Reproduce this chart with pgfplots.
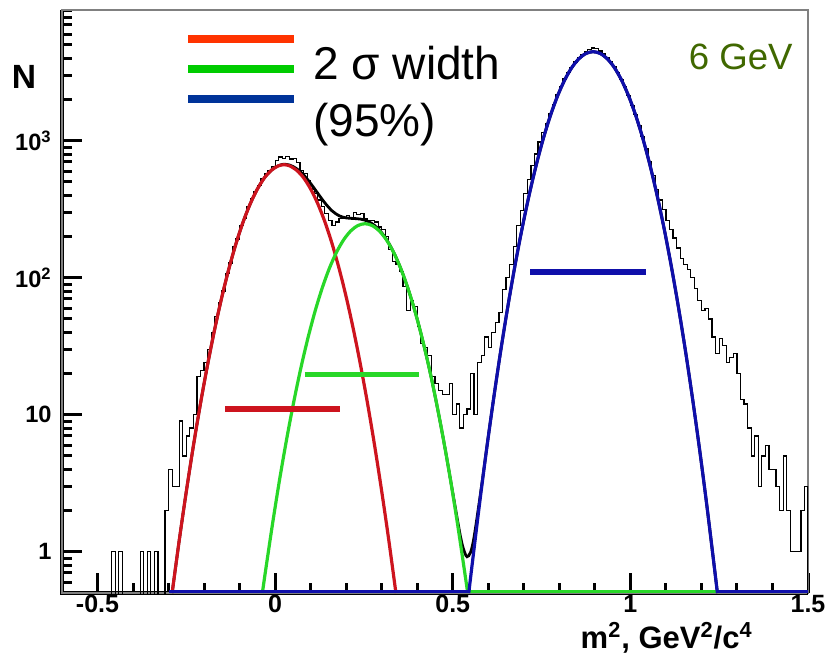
\documentclass[border=0pt]{standalone}
\usepackage{fontspec}
\setmainfont{Liberation Sans}
\usepackage{pgfplots}
\pgfplotsset{compat=1.18}

\definecolor{fitred}{RGB}{205,20,30}
\definecolor{fitgreen}{RGB}{40,215,40}
\definecolor{fitblue}{RGB}{15,15,170}
\definecolor{legred}{RGB}{255,51,0}
\definecolor{leggreen}{RGB}{0,204,0}
\definecolor{legblue}{RGB}{0,51,153}
\definecolor{gevgreen}{RGB}{64,104,0}

\begin{document}
\begin{tikzpicture}
% heavy left and bottom axis lines, under the plotted curves
\draw[black, line width=1.8pt] (0pt,291.5pt) -- (0pt,0pt) -- (373pt,0pt);

\begin{axis}[
  at={(0pt,0pt)}, anchor=south west,
  scale only axis, width=373pt, height=291.5pt,
  xmin=-0.6, xmax=1.5, ymin=0.5, ymax=9000, ymode=log,
  axis line style={gray, line width=0.75pt},
  xtick pos=left, ytick pos=left,
  tick align=inside,
  xtick={-0.5,0,0.5,1,1.5}, xticklabels={-0.5,0,0.5,1,1.5},
  minor xtick={-0.4,-0.3,-0.2,-0.1,0.1,0.2,0.3,0.4,0.6,0.7,0.8,0.9,1.1,1.2,1.3,1.4},
  ytick={1,10,100,1000},
  yticklabels={1,10,{10\textsuperscript{2}},{10\textsuperscript{3}}},
  minor ytick={0.6,0.7,0.8,0.9,2,3,4,5,6,7,8,9,20,30,40,50,60,70,80,90,
               200,300,400,500,600,700,800,900,2000,3000,4000,5000,6000,7000,8000,9000},
  major tick length=10pt, minor tick length=5pt,
  major tick style={black, line width=1.5pt},
  minor tick style={black, line width=1.5pt},
  xticklabel style={font=\fontsize{12.5}{15}\selectfont\bfseries, inner sep=0pt, anchor=north, yshift=-1pt},
  yticklabel style={font=\fontsize{11.8}{14}\selectfont\bfseries, inner sep=0pt, anchor=east, xshift=-5pt},
]

% measured spectrum, bins of 0.01 (left edges); empty bins sit below the axis floor
\addplot[const plot mark left, black, line width=0.6pt] table[x=x, y=n] {
x n
-0.47 0.1
-0.46 1
-0.45 0.1
-0.44 1
-0.43 0.1
-0.42 0.1
-0.41 0.1
-0.40 0.1
-0.39 0.1
-0.38 1
-0.37 0.1
-0.36 1
-0.35 0.1
-0.34 1
-0.33 0.1
-0.32 0.1
-0.31 2
-0.30 4
-0.29 3
-0.28 3
-0.27 9
-0.26 5
-0.25 7
-0.24 8
-0.23 10
-0.22 19
-0.21 21
-0.20 24
-0.19 30
-0.18 40
-0.17 52
-0.16 66
-0.15 80
-0.14 108
-0.13 128
-0.12 168
-0.11 192
-0.10 240
-0.09 272
-0.08 330
-0.07 378
-0.06 428
-0.05 470
-0.04 525
-0.03 575
-0.02 610
-0.01 650
0.00 720
0.01 760
0.02 745
0.03 770
0.04 735
0.05 740
0.06 690
0.07 610
0.08 575
0.09 510
0.10 445
0.11 410
0.12 370
0.13 330
0.14 295
0.15 262
0.16 240
0.17 255
0.18 272
0.19 270
0.20 285
0.21 275
0.22 300
0.23 290
0.24 295
0.25 268
0.26 262
0.27 262
0.28 255
0.29 235
0.30 225
0.31 200
0.32 160
0.33 132
0.34 125
0.35 111
0.36 86
0.37 58
0.38 68
0.39 62
0.40 44
0.41 33
0.42 31
0.43 27
0.44 19
0.45 17
0.46 15
0.47 14
0.48 14
0.49 17
0.50 10
0.51 12
0.52 8
0.53 10
0.54 11
0.55 20
0.56 10
0.57 24
0.58 27
0.59 37
0.60 31
0.61 40
0.62 47
0.63 56
0.64 82
0.65 100
0.66 125
0.67 170
0.68 240
0.69 310
0.70 410
0.71 520
0.72 660
0.73 800
0.74 980
0.75 1150
0.76 1330
0.77 1580
0.78 1850
0.79 2180
0.80 2480
0.81 2820
0.82 3150
0.83 3440
0.84 3760
0.85 4020
0.86 4260
0.87 4450
0.88 4620
0.89 4750
0.90 4700
0.91 4520
0.92 4300
0.93 4050
0.94 3780
0.95 3460
0.96 3150
0.97 2800
0.98 2470
0.99 2150
1.00 1820
1.01 1560
1.02 1290
1.03 1070
1.04 870
1.05 700
1.06 560
1.07 440
1.08 370
1.09 314
1.10 260
1.11 225
1.12 195
1.13 165
1.14 138
1.15 125
1.16 115
1.17 100
1.18 84
1.19 68
1.20 58
1.21 60
1.22 50
1.23 37
1.24 28
1.25 36
1.26 32
1.27 24
1.28 26
1.29 28
1.30 20
1.31 13
1.32 12
1.33 8
1.34 5
1.35 7
1.36 3
1.37 5
1.38 6
1.39 4
1.40 4
1.41 3
1.42 2
1.43 5
1.44 2
1.45 1
1.46 1
1.47 1
1.48 2
1.49 3
1.50 0.1
};

% sum of the three fitted peaks
\addplot[smooth, black, line width=1.4pt] coordinates {
(-0.29,0.5) (-0.27,1.21) (-0.25,2.76) (-0.23,5.96) (-0.21,12.14) (-0.19,23.3)
(-0.17,42.3) (-0.15,72.4) (-0.13,116.8) (-0.11,178.1) (-0.09,256) (-0.07,347)
(-0.05,444) (-0.03,538) (-0.01,612) (0.00,640.7) (0.02,671.9) (0.04,665.5)
(0.06,626.5) (0.08,563.8) (0.10,487.4) (0.12,413.5) (0.14,351.9) (0.16,308.3)
(0.18,283.5) (0.20,273.5) (0.22,270.8) (0.24,268) (0.26,259) (0.28,240.7)
(0.30,213) (0.32,178.6) (0.34,141.6) (0.36,105.9) (0.38,74.6) (0.40,49.7)
(0.42,31.1) (0.44,18.4) (0.46,10.2) (0.48,5.37) (0.50,2.69) (0.52,1.36)
(0.53,1.05) (0.54,0.92) (0.55,0.99) (0.56,1.28) (0.58,2.88) (0.60,6.94)
(0.62,16.1) (0.635,29.3) (0.655,61.6) (0.675,122.1) (0.695,228) (0.715,401.3)
(0.735,665.5) (0.755,1040) (0.775,1530) (0.795,2123) (0.815,2775) (0.835,3418)
(0.855,3966) (0.875,4336) (0.895,4467) (0.915,4336) (0.935,3966) (0.955,3418)
(0.975,2775) (0.995,2123) (1.015,1530) (1.035,1040) (1.055,665.5) (1.075,401.3)
(1.095,228) (1.115,122.1) (1.135,61.6) (1.155,29.3) (1.175,13.1) (1.195,5.53)
(1.215,2.20) (1.235,0.824) (1.245,0.5)
};

% pion peak
\addplot[smooth, fitred, line width=1.6pt] coordinates {
(-0.29,0.5) (-0.27,1.21) (-0.25,2.76) (-0.23,5.96) (-0.21,12.14) (-0.19,23.3)
(-0.17,42.3) (-0.15,72.4) (-0.13,116.8) (-0.11,178.1) (-0.09,256) (-0.07,347)
(-0.05,444) (-0.03,537) (-0.01,611) (0.01,657) (0.025,668) (0.04,657)
(0.06,611) (0.08,537) (0.10,444) (0.12,347) (0.14,256) (0.16,178.1)
(0.18,116.8) (0.20,72.4) (0.22,42.3) (0.24,23.3) (0.26,12.14) (0.28,5.96)
(0.30,2.76) (0.32,1.21) (0.34,0.5)
};

% kaon peak, then its tail clamped to the axis floor
\addplot[smooth, fitgreen, line width=1.6pt] coordinates {
(-0.036,0.5) (-0.027,0.727) (-0.007,1.62) (0.013,3.42) (0.033,6.77) (0.053,12.65)
(0.073,22.3) (0.093,36.9) (0.113,57.7) (0.133,84.9) (0.153,117.8) (0.173,153.9)
(0.193,189.5) (0.213,219.9) (0.233,240.5) (0.253,248) (0.273,240.5) (0.293,219.9)
(0.313,189.5) (0.333,153.9) (0.353,117.8) (0.373,84.9) (0.393,57.7) (0.413,36.9)
(0.433,22.3) (0.453,12.65) (0.473,6.77) (0.493,3.42) (0.513,1.62) (0.533,0.727)
(0.542,0.5)
};
\addplot[fitgreen, line width=1.6pt] coordinates {(0.542,0.51) (1.245,0.51)};

% proton peak, with its tails clamped to the axis floor
\addplot[fitblue, line width=1.6pt] coordinates {(-0.30,0.51) (0.545,0.51)};
\addplot[fitblue, line width=1.6pt] coordinates {(1.245,0.51) (1.50,0.51)};
\addplot[smooth, fitblue, line width=1.6pt] coordinates {
(0.545,0.5) (0.555,0.824) (0.575,2.20) (0.595,5.53) (0.615,13.1) (0.635,29.3)
(0.655,61.6) (0.675,122.1) (0.695,228) (0.715,401.3) (0.735,665.5) (0.755,1040)
(0.775,1530) (0.795,2123) (0.815,2775) (0.835,3418) (0.855,3966) (0.875,4336)
(0.895,4467) (0.915,4336) (0.935,3966) (0.955,3418) (0.975,2775) (0.995,2123)
(1.015,1530) (1.035,1040) (1.055,665.5) (1.075,401.3) (1.095,228) (1.115,122.1)
(1.135,61.6) (1.155,29.3) (1.175,13.1) (1.195,5.53) (1.215,2.20) (1.235,0.824)
(1.245,0.5)
};

% 2 sigma widths of the three peaks
\addplot[fitred, line width=2.6pt] coordinates {(-0.141,11) (0.183,11)};
\addplot[fitgreen, line width=2.6pt] coordinates {(0.083,19.8) (0.406,19.8)};
\addplot[fitblue, line width=2.6pt] coordinates {(0.718,110) (1.044,110)};
\end{axis}

% axis titles
\node[anchor=base, inner sep=0pt, font=\fontsize{16.8}{20}\selectfont\bfseries] at (-19pt,252pt) {N};
\node[anchor=base east, inner sep=0pt, font=\fontsize{15.5}{18}\selectfont\bfseries]
  at (345.5pt,-27.5pt) {m\textsuperscript{2}, GeV\textsuperscript{2}/c\textsuperscript{4}};

% key
\draw[legred, line width=4pt] (63pt,277pt) -- (116pt,277pt);
\draw[leggreen, line width=4pt] (63pt,262pt) -- (116pt,262pt);
\draw[legblue, line width=4pt] (63pt,247pt) -- (116pt,247pt);
\node[anchor=base west, inner sep=0pt, font=\fontsize{23}{28}\selectfont] at (125.5pt,256.5pt) {2 σ width};
\node[anchor=base west, inner sep=0pt, font=\fontsize{23}{28}\selectfont] at (125.5pt,228pt) {(95\%)};
\node[anchor=base east, inner sep=0pt, text=gevgreen, font=\fontsize{18.3}{22}\selectfont] at (365.5pt,261.5pt) {6 GeV};

\pgfresetboundingbox
\useasboundingbox (-31pt,-35.5pt) rectangle (383.5pt,296.5pt);
\end{tikzpicture}
\end{document}
